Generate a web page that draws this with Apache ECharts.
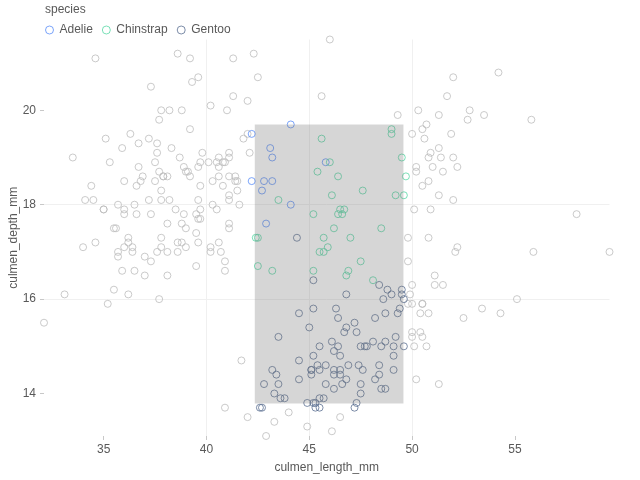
<!DOCTYPE html>
<html>
<head>
<meta charset="utf-8">
<script src="https://cdn.jsdelivr.net/npm/echarts@6/dist/echarts.min.js"></script>
<style>html,body{margin:0;padding:0;background:#fff}#c{width:640px;height:480px}</style>
</head>
<body>
<div id="c"></div>
<script>
// culmen_length_mm, culmen_depth_mm pairs read per species
const adelie = [[39.1,18.7],[39.5,17.4],[40.3,18.0],[36.7,19.3],[39.3,20.6],[38.9,17.8],[39.2,19.6],[34.1,18.1],[42.0,20.2],[37.8,17.1],[37.8,17.3],[41.1,17.6],[38.6,21.2],[34.6,21.1],[36.6,17.8],[38.7,19.0],[42.5,20.7],[34.4,18.4],[46.0,21.5],[37.8,18.3],[37.7,18.7],[35.9,19.2],[38.2,18.1],[38.8,17.2],[35.3,18.9],[40.6,18.6],[40.5,17.9],[37.9,18.6],[40.5,18.9],[39.5,16.7],[37.2,18.1],[39.5,17.8],[40.9,18.9],[36.4,17.0],[39.2,21.1],[38.8,20.0],[42.2,18.5],[37.6,19.3],[39.8,19.1],[36.5,18.0],[40.8,18.4],[36.0,18.5],[44.1,19.7],[37.0,16.9],[39.6,18.8],[41.1,19.0],[37.5,18.9],[36.0,17.9],[42.3,21.2],[39.6,17.7],[40.1,18.9],[35.0,17.9],[42.0,19.5],[34.5,18.1],[41.4,18.6],[39.0,17.5],[40.6,18.8],[36.5,16.6],[37.6,19.1],[35.7,16.9],[41.3,21.1],[37.6,17.0],[41.1,18.2],[36.4,17.1],[41.6,18.0],[35.5,16.2],[41.1,19.1],[35.9,16.6],[41.8,19.4],[33.5,19.0],[39.7,18.4],[39.6,17.2],[45.8,18.9],[35.5,17.5],[42.8,18.5],[40.9,16.8],[37.2,19.4],[36.2,16.1],[42.1,19.1],[34.6,17.2],[42.9,17.6],[36.7,18.8],[35.1,19.4],[37.3,17.8],[41.3,20.3],[36.3,19.5],[36.9,18.6],[38.3,19.2],[38.9,18.8],[35.7,18.0],[41.1,18.1],[34.0,17.1],[39.6,18.1],[36.2,17.3],[40.8,18.9],[38.1,18.6],[40.3,18.5],[33.1,16.1],[43.2,18.5],[35.0,17.9],[41.0,20.0],[37.7,16.0],[37.8,20.0],[37.9,18.6],[39.7,18.9],[38.6,17.2],[38.2,20.0],[38.1,17.0],[43.2,19.0],[38.1,16.5],[45.6,20.3],[39.7,17.7],[42.2,19.5],[39.6,20.7],[42.7,18.3],[38.6,17.0],[37.3,20.5],[35.7,17.0],[41.1,18.6],[36.2,17.2],[37.7,19.8],[40.2,17.0],[41.4,18.5],[35.2,15.9],[40.6,19.0],[38.8,17.6],[41.5,18.3],[39.0,17.1],[44.1,18.0],[38.5,17.9],[43.1,19.2],[36.8,18.5],[37.5,18.5],[38.1,17.6],[41.1,17.5],[35.6,17.5],[40.2,20.1],[37.0,16.5],[39.7,17.9],[40.2,17.1],[40.6,17.2],[32.1,15.5],[40.7,17.0],[37.3,16.8],[39.0,18.7],[39.2,18.6],[36.6,18.4],[36.0,17.8],[37.8,18.1],[36.0,17.1],[41.5,18.5]];
const chinstrap = [[46.5,17.9],[50.0,19.5],[51.3,19.2],[45.4,18.7],[52.7,19.8],[45.2,17.8],[46.1,18.2],[51.3,18.2],[46.0,18.9],[51.3,19.9],[46.6,17.8],[51.7,20.3],[47.0,17.3],[52.0,18.1],[45.9,17.1],[50.5,19.6],[50.3,20.0],[58.0,17.8],[46.4,18.6],[49.2,18.2],[42.4,17.3],[48.5,17.5],[43.2,16.6],[50.6,19.4],[46.7,17.9],[52.0,19.0],[50.5,18.4],[49.5,19.0],[46.4,17.8],[52.8,20.0],[40.9,16.6],[54.2,20.8],[42.5,16.7],[51.0,18.8],[49.7,18.6],[47.5,16.8],[47.6,18.3],[52.0,20.7],[46.9,16.6],[53.5,19.9],[49.0,19.5],[46.2,17.5],[50.9,19.1],[45.5,17.0],[50.9,17.9],[50.8,18.5],[50.1,17.9],[49.0,19.6],[51.5,18.7],[49.8,17.3],[48.1,16.4],[51.4,19.0],[45.7,17.3],[50.7,19.7],[42.5,17.3],[52.2,18.8],[45.2,16.6],[49.3,19.9],[50.2,18.8],[45.6,19.4],[51.9,19.5],[46.8,16.5],[45.7,17.0],[55.8,19.8],[43.5,18.1],[49.6,18.2],[50.8,19.0],[50.2,18.7]];
const gentoo = [[46.1,13.2],[50.0,16.3],[48.7,14.1],[50.0,15.2],[47.6,14.5],[46.5,13.5],[45.4,14.6],[46.7,15.3],[43.3,13.4],[46.8,15.4],[40.9,13.7],[49.0,16.1],[45.5,13.7],[48.4,14.6],[45.8,14.6],[49.3,15.7],[42.0,13.5],[49.2,15.2],[46.2,14.5],[48.7,15.1],[50.2,14.3],[45.1,14.5],[46.5,14.5],[46.3,15.8],[42.9,13.1],[46.1,15.1],[44.5,14.3],[47.8,15.0],[48.2,14.3],[50.0,15.3],[47.3,15.3],[42.8,14.2],[45.1,14.5],[59.6,17.0],[49.1,14.8],[48.4,16.3],[42.6,13.7],[44.4,17.3],[44.0,13.6],[48.7,15.7],[42.7,13.7],[49.6,16.0],[45.3,13.7],[49.6,15.0],[50.5,15.9],[43.6,13.9],[45.5,13.9],[50.5,15.9],[44.9,13.3],[45.2,15.8],[46.6,14.2],[48.5,14.1],[45.1,14.4],[50.1,15.0],[46.5,14.4],[45.0,15.4],[43.8,13.9],[45.5,15.0],[43.2,14.5],[50.4,15.3],[45.3,13.8],[46.2,14.9],[45.7,13.9],[54.3,15.7],[45.8,14.2],[49.8,16.8],[46.2,14.4],[49.5,16.2],[43.5,14.2],[50.7,15.0],[47.7,15.0],[46.4,15.6],[48.2,15.6],[46.5,14.8],[46.4,15.0],[48.6,16.0],[47.5,14.2],[51.1,16.3],[45.2,13.8],[45.2,16.4],[49.1,14.5],[52.5,15.6],[47.4,14.6],[50.0,15.9],[44.9,13.8],[50.8,17.3],[43.4,14.4],[51.3,14.2],[47.5,14.0],[52.1,17.0],[47.5,15.0],[52.2,17.1],[45.5,14.5],[49.5,16.1],[44.5,14.7],[50.8,15.7],[49.4,15.8],[46.9,14.6],[48.4,14.4],[51.1,16.5],[48.5,15.0],[55.9,17.0],[47.2,15.5],[49.1,15.0],[47.3,13.8],[46.8,16.1],[41.7,14.7],[53.4,15.8],[43.3,14.0],[48.1,15.1],[50.5,15.2],[49.8,15.9],[43.5,15.2],[51.5,16.3],[46.2,14.1],[55.1,16.0],[44.5,15.7],[48.8,16.2],[47.2,13.7],[46.8,14.3],[50.4,15.7],[45.2,14.8],[49.9,16.1]];

const speciesNames = ['Adelie', 'Chinstrap', 'Gentoo'];
const speciesColors = ['#5B8FF9', '#5AD8A6', '#5D7092'];
const xTicks = [35, 40, 45, 50, 55];
const yTicks = [14, 16, 18, 20];
const xDomain = [32.1, 59.6];
const yDomain = [13.1, 21.5];
// brush selection (data units) and marker half-size in data units
const brushX = [42.35, 49.58];
const brushY = [13.79, 19.70];
const padX = 0.2, padY = 0.14;

const groups = [adelie, chinstrap, gentoo];
function inBrush(p) {
  return p[0] >= brushX[0] - padX && p[0] <= brushX[1] + padX &&
         p[1] >= brushY[0] - padY && p[1] <= brushY[1] + padY;
}
const grayPts = [];
const selPts = groups.map(g => {
  const s = [];
  g.forEach(p => { if (inBrush(p)) s.push(p); else grayPts.push(p); });
  return s;
});

const font = 'Liberation Sans, Arial, sans-serif';
const textColor = '#595959';

const series = [{
  name: 'unselected', type: 'scatter', data: grayPts, symbol: 'circle', symbolSize: 7, z: 1,
  itemStyle: { color: 'transparent', borderColor: '#bdbdbd', borderWidth: 1 },
  emphasis: { disabled: true }, silent: true
}];
speciesNames.forEach((n, i) => {
  series.push({
    name: n, type: 'scatter', data: selPts[i], symbol: 'circle', symbolSize: 7, z: 2,
    itemStyle: { color: 'transparent', borderColor: speciesColors[i], borderWidth: 1 },
    emphasis: { disabled: true }, silent: true
  });
});
series.push({
  name: 'mask', type: 'scatter', data: [], z: 5, silent: true,
  markArea: {
    silent: true, z: 10,
    itemStyle: { color: '#777777', opacity: 0.3 },
    label: { show: false },
    data: [[{ coord: [brushX[0], brushY[1]] }, { coord: [brushX[1], brushY[0]] }]]
  }
});

const chart = echarts.init(document.getElementById('c'), null, { renderer: 'canvas' });
chart.setOption({
  animation: false,
  textStyle: { fontFamily: font },
  title: {
    text: 'species', left: 45, top: 4, padding: 0,
    textStyle: { fontSize: 12, fontWeight: 'normal', color: textColor, fontFamily: font }
  },
  legend: {
    data: speciesNames, left: 45, top: 24, padding: 0,
    itemWidth: 8, itemHeight: 8, itemGap: 9,
    itemStyle: { borderWidth: 1 },
    textStyle: { fontSize: 12, color: textColor, fontFamily: font, padding: [0, 0, 0, 1] }
  },
  grid: { left: 44, right: 30.5, top: 39.5, bottom: 44, outerBoundsMode: 'none', containLabel: false },
  xAxis: {
    type: 'value', min: xDomain[0], max: xDomain[1],
    name: 'culmen_length_mm', nameLocation: 'middle', nameGap: 26, nameMoveOverlap: false,
    nameTextStyle: { fontSize: 12, color: textColor, fontFamily: font },
    axisLine: { show: false },
    axisTick: { show: true, length: 4, customValues: xTicks, lineStyle: { color: '#c8c8c8' } },
    axisLabel: { customValues: xTicks, color: textColor, fontSize: 12, margin: 8, fontFamily: font },
    splitLine: { show: true, showMinLine: false, showMaxLine: false, lineStyle: { color: '#f0f0f0', width: 1 } }
  },
  yAxis: {
    type: 'value', min: yDomain[0], max: yDomain[1],
    name: 'culmen_depth_mm', nameLocation: 'middle', nameGap: 24, nameMoveOverlap: false,
    nameTextStyle: { fontSize: 12, color: textColor, fontFamily: font },
    axisLine: { show: false },
    axisTick: { show: true, length: 4, customValues: yTicks, lineStyle: { color: '#c8c8c8' } },
    axisLabel: { customValues: yTicks, color: textColor, fontSize: 12, margin: 8, fontFamily: font },
    splitLine: { show: true, showMinLine: false, showMaxLine: false, lineStyle: { color: '#f0f0f0', width: 1 } }
  },
  series: series
});
</script>
</body>
</html>
